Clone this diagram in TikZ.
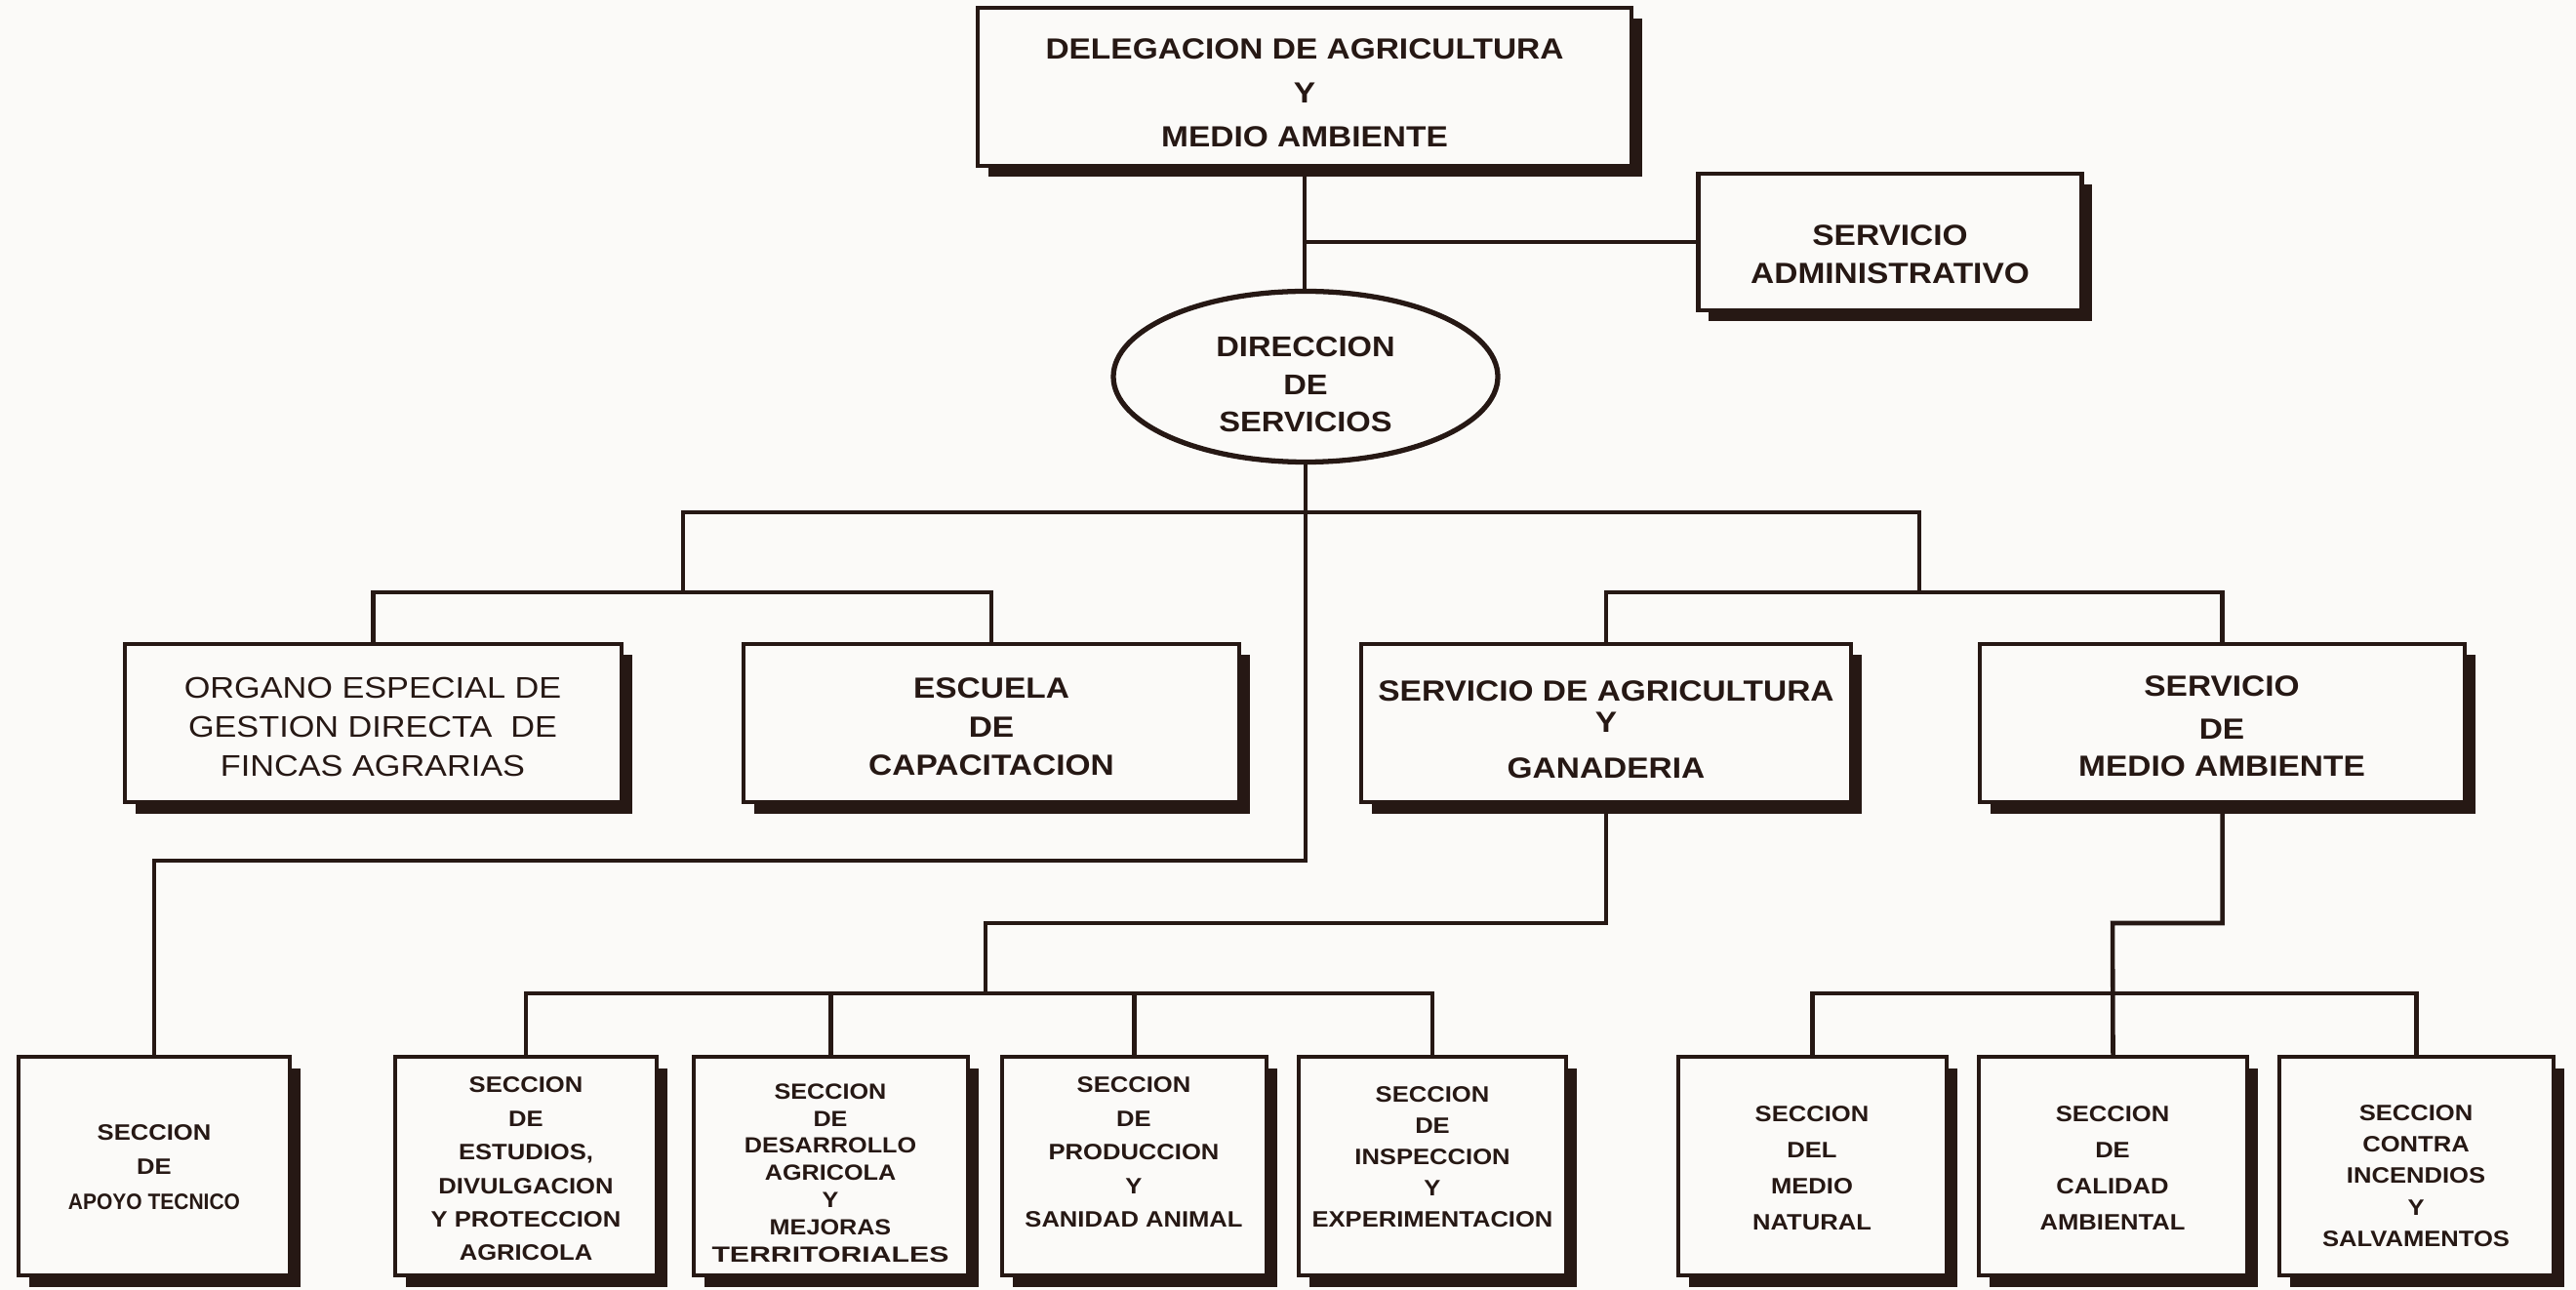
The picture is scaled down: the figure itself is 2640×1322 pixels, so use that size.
\documentclass[tikz,border=0pt]{standalone}
\usepackage{fontspec}
\setmainfont{Liberation Sans}[FakeStretch=1.12]
\usetikzlibrary{shadows,calc,shapes.geometric}
\definecolor{ink}{RGB}{38,24,20}
\definecolor{paper}{RGB}{251,250,248}
\begin{document}
\begin{tikzpicture}[x=0.1mm,y=-0.1mm,
  conn/.style={draw=ink, line width=1.3pt, line cap=rect, line join=miter},
  box/.style={draw=ink, line width=1.2pt, fill=paper, inner sep=0pt,
    drop shadow={shadow xshift=1.05mm, shadow yshift=-1.15mm, fill=ink, opacity=1}},
  txt/.style={text=ink, align=center, inner sep=0pt},
  big/.style={txt, font=\fontsize{8.5}{12.8}\selectfont\bfseries},
  mid/.style={txt, font=\fontsize{8.5}{11.3}\selectfont\bfseries},
  midl/.style={txt, font=\fontsize{8.7}{11.3}\selectfont},
  sml/.style={txt, font=\fontsize{6.5}{9.8}\selectfont\bfseries},
  lvltwo/.style={box, minimum height=16.2mm},
  lvlthree/.style={box, minimum height=22.4mm},
]
\fill[paper] (0,0) rectangle (2640,1322);
\useasboundingbox (0,0) rectangle (2640,1322);

% ---- top level
\node[box, minimum width=67mm, minimum height=16.2mm] (del) at (1337,89) {};
\node[big] (delt) at (1337,95) {DELEGACION DE AGRICULTURA\\Y\\MEDIO AMBIENTE};

\node[box, minimum width=39.3mm, minimum height=14mm] (adm) at (1937,248) {};
\node[big, font=\fontsize{8.5}{11}\selectfont\bfseries] (admt) at (1937,261) {SERVICIO\\ADMINISTRATIVO};

\node[draw=ink, line width=1.5pt, ellipse, fill=paper, inner sep=0pt,
      minimum width=39.4mm, minimum height=17.5mm] (dir) at (1338,386) {};
\node[big, font=\fontsize{8.3}{11}\selectfont\bfseries] (dirt) at (1338,394) {DIRECCION\\DE\\SERVICIOS};

% ---- second level
\node[lvltwo, minimum width=50.9mm] (org) at (382.5,741) {};
\node[midl] (orgt) at (382,745) {ORGANO ESPECIAL DE\\GESTION DIRECTA\ \ DE\\FINCAS AGRARIAS};
\node[lvltwo, minimum width=50.8mm] (esc) at (1016,741) {};
\node[mid] (esct) at (1016,745) {ESCUELA\\DE\\CAPACITACION};
\node[lvltwo, minimum width=50.2mm] (sag) at (1646,741) {};
\node[mid] (sagt) at (1646,748) {SERVICIO DE AGRICULTURA\\[-2.4pt]Y\\[2.2pt]GANADERIA};
\node[lvltwo, minimum width=49.7mm] (sma) at (2277.5,741) {};
\node[mid, font=\fontsize{8.5}{10.8}\selectfont\bfseries] (smat) at (2277,744) {SERVICIO\\[1.7pt]DE\\MEDIO AMBIENTE};

% ---- third level
\node[lvlthree, minimum width=27.8mm] (apo) at (158,1195) {};
\node[sml, font=\fontsize{6.5}{10.2}\selectfont\bfseries] (apot) at (158,1196) {SECCION\\DE\\\scalebox{0.82}[1]{APOYO TECNICO}};
\node[lvlthree, minimum width=26.8mm] (est) at (539,1195) {};
\node[sml] (estt) at (539,1198) {SECCION\\DE\\ESTUDIOS,\\DIVULGACION\\Y PROTECCION\\AGRICOLA};
\node[lvlthree, minimum width=28.1mm] (des) at (851.5,1195) {};
\node[sml, font=\fontsize{6.4}{7.9}\selectfont\bfseries] (dest) at (851,1202) {SECCION\\DE\\DESARROLLO\\AGRICOLA\\Y\\MEJORAS\\\scalebox{1.2}[1]{TERRITORIALES}};
\node[lvlthree, minimum width=27.1mm] (pro) at (1162.5,1195) {};
\node[sml] (prot) at (1162,1181) {SECCION\\DE\\PRODUCCION\\Y\\SANIDAD ANIMAL};
\node[lvlthree, minimum width=27.4mm] (ins) at (1468,1195) {};
\node[sml, font=\fontsize{6.5}{9.1}\selectfont\bfseries] (inst) at (1468,1186) {SECCION\\DE\\INSPECCION\\Y\\EXPERIMENTACION};
\node[lvlthree, minimum width=27.5mm] (nat) at (1857.5,1195) {};
\node[sml, font=\fontsize{6.5}{10.5}\selectfont\bfseries] (natt) at (1857,1197) {SECCION\\DEL\\MEDIO\\NATURAL};
\node[lvlthree, minimum width=27.5mm] (cal) at (2165.5,1195) {};
\node[sml, font=\fontsize{6.5}{10.5}\selectfont\bfseries] (calt) at (2165,1197) {SECCION\\DE\\CALIDAD\\AMBIENTAL};
\node[lvlthree, minimum width=28.1mm] (inc) at (2476.5,1195) {};
\node[sml, font=\fontsize{6.5}{9.2}\selectfont\bfseries] (inct) at (2476,1205) {SECCION\\CONTRA\\INCENDIOS\\Y\\SALVAMENTOS};

% ---- junction coordinates
\coordinate (busL) at (700,525);
\coordinate (busR) at (1967,525);
\coordinate (subL) at (700,607);
\coordinate (subR) at (1967,607);
\coordinate (apoJ) at (1338,882);
\coordinate (sagJ) at (1010,946);
\coordinate (smaJ) at (2165,946);
\coordinate (busA) at (1010,1018);
\coordinate (busB) at (2165,1018);

% ---- connectors
\draw[conn] (del.south) -- (del.south |- dir.north);
\draw[conn] (del.south |- adm.west) -- (adm.west);
\draw[conn] (busL) -- (busR);
\draw[conn] (busL) -- (subL);
\draw[conn] (busR) -- (subR);
\draw[conn] (org.north) |- (esc.north |- subL) -- (esc.north);
\draw[conn] (sag.north) |- (sma.north |- subR) -- (sma.north);
\draw[conn] (dir.south) -- (dir.south |- apoJ) -| (apo.north);
\draw[conn] (sag.south) |- (sagJ) -- (busA);
\draw[conn] (est.north) |- (ins.north |- busA) -- (ins.north);
\draw[conn] (des.north |- busA) -- (des.north);
\draw[conn] (pro.north |- busA) -- (pro.north);
\draw[conn] (sma.south) |- (smaJ) -- (cal.north);
\draw[conn] (nat.north) |- (inc.north |- busB) -- (inc.north);
\end{tikzpicture}
\end{document}
